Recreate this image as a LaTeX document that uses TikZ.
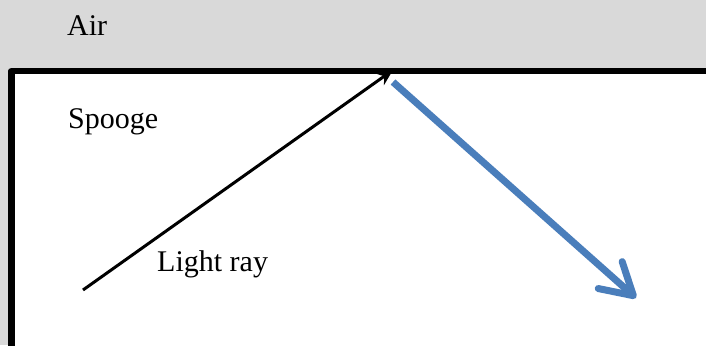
\documentclass[tikz,border=0pt]{standalone}
\usepackage{fontspec}
\setmainfont{Liberation Serif}
\usetikzlibrary{arrows.meta}
\definecolor{airgrey}{HTML}{D9D9D9}
\definecolor{rayblue}{HTML}{4A7EBB}
\tikzset{
  lbl/.style={anchor=base west, inner sep=0pt, font=\fontsize{30}{36}\selectfont},
  border/.style={line width=6.5pt, line join=round},
  incray/.style={line width=3pt, -{Stealth[length=16pt,width=14pt]}},
  refray/.style={line width=7pt, rayblue, -{Straight Barb[length=31pt,width=36pt,round]}}
}
\begin{document}
\begin{tikzpicture}[x=1pt,y=-1pt]
\useasboundingbox (0,0) rectangle (706,345);
\fill[airgrey] (0,0) rectangle (706,345);
\fill[white] (11.5,71) rectangle (712,352);
\draw[border] (11.5,360) -- (11.5,71) -- (720,71);
\coordinate (incstart) at (83,290);
\coordinate (hit) at (393,70);
\coordinate (refstart) at (393,82);
\coordinate (refend) at (636,298);
\draw[incray] (incstart) -- (hit);
\draw[refray] (refstart) -- (refend);
\node[lbl] (air) at (67,36) {Air};
\node[lbl] (spooge) at (68,128) {Spooge};
\node[lbl] (light) at (157,271) {Light ray};
\end{tikzpicture}
\end{document}
